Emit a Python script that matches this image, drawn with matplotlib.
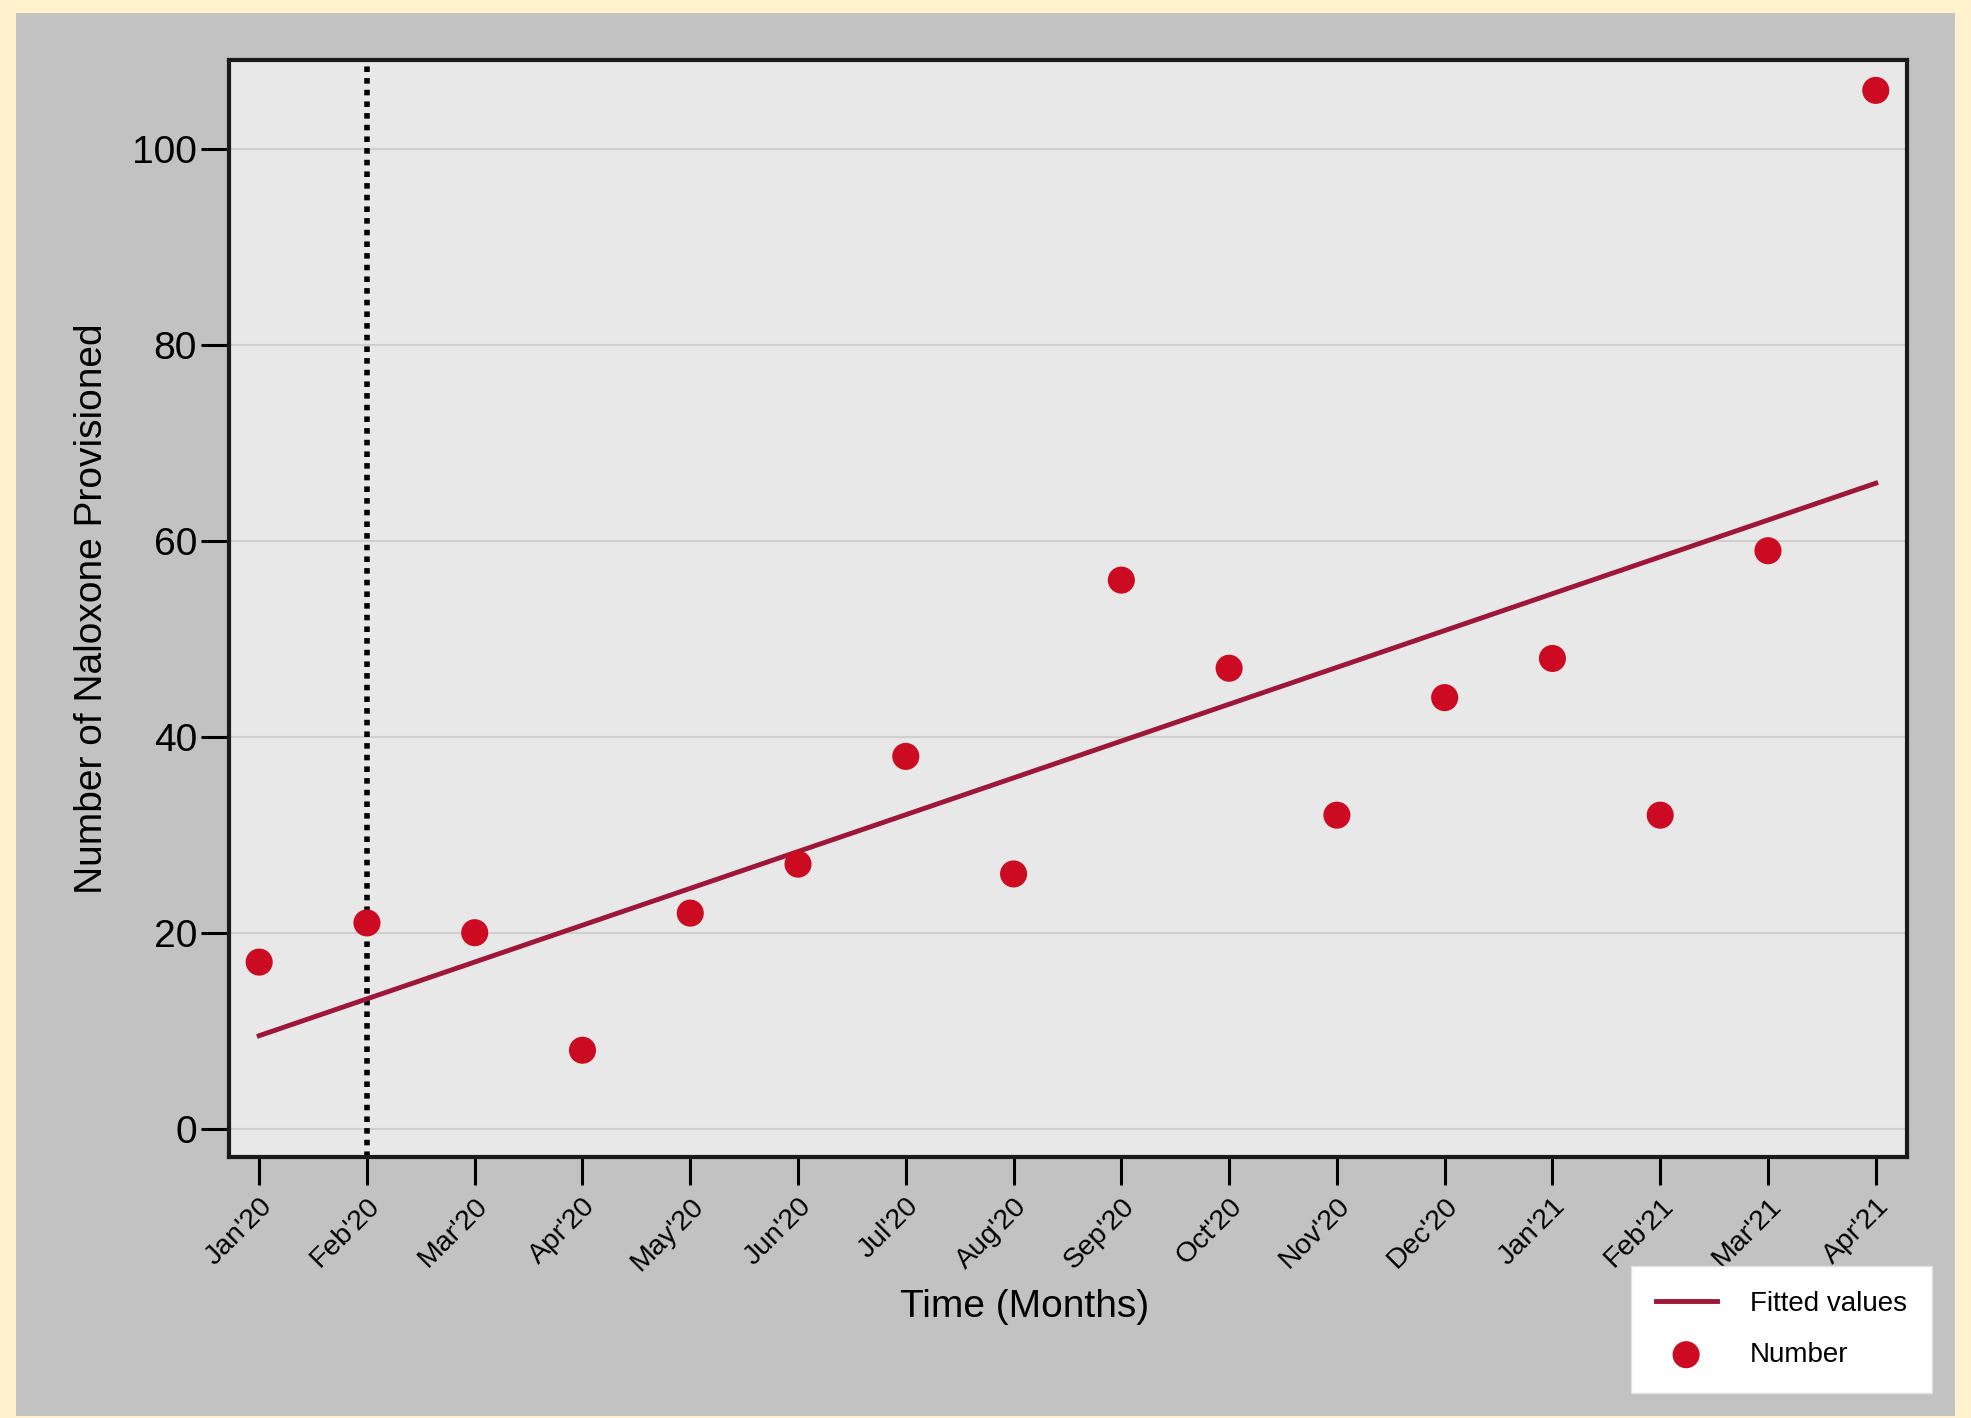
import numpy as np
import matplotlib.pyplot as plt
from matplotlib.patches import Rectangle

plt.rcParams['font.family'] = ['Liberation Sans', 'DejaVu Sans']

months = ["Jan'20", "Feb'20", "Mar'20", "Apr'20", "May'20", "Jun'20", "Jul'20", "Aug'20",
          "Sep'20", "Oct'20", "Nov'20", "Dec'20", "Jan'21", "Feb'21", "Mar'21", "Apr'21"]
number = [17, 21, 20, 8, 22, 27, 38, 26, 56, 47, 32, 44, 48, 32, 59, 106]
yticks = [0, 20, 40, 60, 80, 100]
cutoff_month = "Feb'20"

x = np.arange(len(months))
slope, intercept = np.polyfit(x, number, 1)
fitted = intercept + slope * x

fig = plt.figure(figsize=(19.71, 14.18), dpi=100, facecolor='#fff2cc')
# grey panel behind everything
fig.patches.append(Rectangle((16/1971, 2/1418), (1955-16)/1971, (1405-2)/1418,
                             transform=fig.transFigure, facecolor='#c2c2c2',
                             edgecolor='none', zorder=-10))

ax = fig.add_axes([229/1971, 1 - 1157/1418, (1907-229)/1971, (1157-60)/1418])
ax.set_facecolor('#e8e8e8')

for yv in yticks:
    ax.axhline(yv, color='#cfcfcf', lw=1.5, zorder=1)

ax.axvline(months.index(cutoff_month), color='black', lw=4,
           linestyle=(0, (1, 1.1)), zorder=2)

ax.plot(x, fitted, color='#9e1639', lw=3.5, zorder=3, label='Fitted values')
ax.scatter(x, number, s=380, color='#cc0a22', zorder=4, label='Number',
           edgecolors='none')

ax.set_xlim(-0.28, 15.29)
ax.set_ylim(-2.9, 109.1)
ax.set_yticks(yticks)
ax.set_xticks(x)
ax.set_xticklabels(months, rotation=45, ha='right', rotation_mode='anchor',
                   fontsize=20.5)
ax.tick_params(axis='y', labelsize=28, length=20, width=2.2, pad=3)
ax.tick_params(axis='x', length=20, width=2.2, pad=6)
for s in ax.spines.values():
    s.set_linewidth(3)
    s.set_color('#1a1a1a')

ax.set_ylabel('Number of Naloxone Provisioned', fontsize=28, labelpad=16)
ax.set_xlabel('Time (Months)', fontsize=28)
ax.xaxis.set_label_coords(0.474, -0.12)

handles, labels = ax.get_legend_handles_labels()
leg = fig.legend(handles, labels, loc='lower right',
                 bbox_to_anchor=(1932/1971, 1 - 1393/1418), fontsize=20,
                 frameon=True, fancybox=False, facecolor='white',
                 edgecolor='#e0e0e0', framealpha=1, borderpad=0.9,
                 handlelength=2.2, handletextpad=1.2, labelspacing=0.9,
                 borderaxespad=0)
leg.get_frame().set_linewidth(1)

fig.savefig('out.png', dpi=100, facecolor=fig.get_facecolor())
